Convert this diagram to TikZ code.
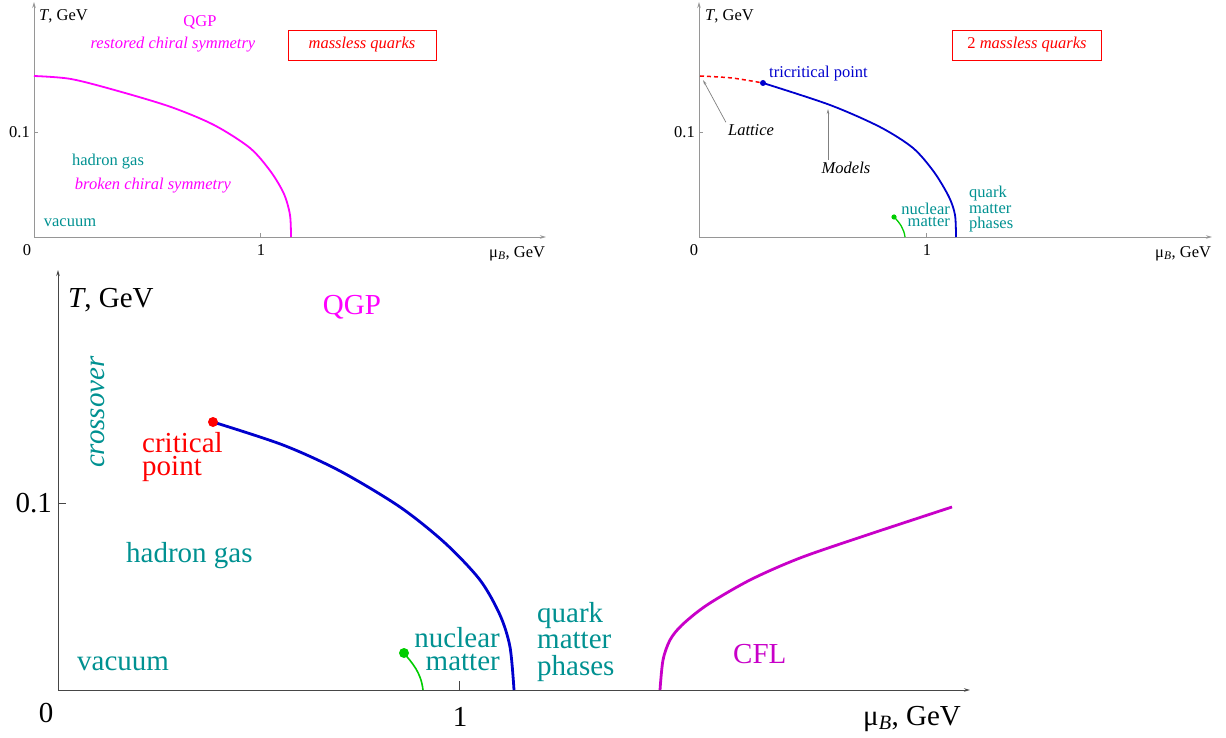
\documentclass[tikz,border=0pt]{standalone}
\usepackage{fontspec}
\setmainfont{Liberation Serif}
\usetikzlibrary{arrows.meta, positioning}
\definecolor{tealtxt}{RGB}{0,145,145}
\definecolor{qgpmag}{RGB}{255,0,255}
\definecolor{cflmag}{RGB}{200,0,200}
\definecolor{lineblue}{RGB}{0,0,205}
\definecolor{axgray}{RGB}{150,150,150}
\definecolor{axdark}{RGB}{70,70,70}
\definecolor{ptgreen}{RGB}{0,205,0}

\begin{document}
\begin{tikzpicture}[x=1pt, y=-1pt,
  smalltxt/.style={inner sep=0pt, font=\fontsize{16.5}{18}\selectfont},
  bigtxt/.style={inner sep=0pt, font=\fontsize{29}{32}\selectfont},
  axisline/.style={draw=axgray, line width=0.9pt},
  bigaxis/.style={draw=axdark, line width=1pt},
  axtip/.style={-{Stealth[length=6pt, width=3.5pt]}},
  ptr/.style={draw=gray, line width=0.7pt, -{Stealth[length=5pt, width=2.5pt]}}]
\useasboundingbox (0,0) rectangle (1226,738);

% top left
\coordinate (OA) at (34,237);
\draw[axisline, axtip] (OA) -- (34,2);
\draw[axisline, axtip] (OA) -- (546,237);
\draw[axisline] (34,132) -- +(4,0);
\draw[axisline] (260,237) -- +(0,-4);
\node[smalltxt, anchor=base west] (TA) at (39,21) {\textit{T}, GeV};
\node[smalltxt, anchor=east] (YA) at (30,132) {0.1};
\node[smalltxt] (ZA) at (27,250) {0};
\node[smalltxt] (UA) at (261,250) {1};
\node[smalltxt, anchor=base west] (MA) at (489,257) {μ\textsubscript{\textit{B}}, GeV};
\node[smalltxt, text=qgpmag] (QA) at (200,22) {QGP};
\node[smalltxt, text=qgpmag] (RA) at (173,45) {\textit{restored chiral symmetry}};
\node[smalltxt, draw=red, text=red, line width=0.9pt, minimum width=148pt, minimum height=30pt] (BA) at (362,45) {\textit{massless quarks}};
\draw[qgpmag, line width=1.8pt] plot[smooth] coordinates {(34,76) (71,79) (118,91) (171,107) (214,125) (250,148) (271,172) (284,194) (290,215) (291,237)};
\node[smalltxt, text=tealtxt] (HA) at (108,162) {hadron gas};
\node[smalltxt, text=qgpmag] (KA) at (153,186) {\textit{broken chiral symmetry}};
\node[smalltxt, text=tealtxt] (VA) at (70,223) {vacuum};

% top right
\coordinate (OB) at (699,237);
\draw[axisline, axtip] (OB) -- (699,2);
\draw[axisline, axtip] (OB) -- (1212,237);
\draw[axisline] (699,132) -- +(4,0);
\draw[axisline] (926,237) -- +(0,-4);
\node[smalltxt, anchor=base west] (TB) at (705,21) {\textit{T}, GeV};
\node[smalltxt, anchor=east] (YB) at (695,132) {0.1};
\node[smalltxt] (ZB) at (694,250) {0};
\node[smalltxt] (UB) at (927,250) {1};
\node[smalltxt, anchor=base west] (MB) at (1155,257) {μ\textsubscript{\textit{B}}, GeV};
\node[smalltxt, draw=red, text=red, line width=0.9pt, minimum width=149pt, minimum height=30pt] (BB) at (1027,45) {2 \textit{massless quarks}};
\coordinate (TP) at (763,83);
\draw[red, line width=1.5pt, dash pattern=on 4pt off 3pt] plot[smooth] coordinates {(700,76) (732,78) (763,83)};
\draw[lineblue, line width=1.8pt] plot[smooth] coordinates {(763,83) (830,105) (880,127) (913,148) (934,172) (949,197) (955,215) (956,237)};
\fill[lineblue] (TP) circle (3pt);
\node[smalltxt, text=lineblue, anchor=west] (TC) at (769,74) {tricritical point};
\coordinate (LP) at (703,80);
\coordinate (MP) at (828,109);
\node[smalltxt, inner sep=2pt] (LT) at (751,130) {\textit{Lattice}};
\node[smalltxt, inner sep=2pt] (MD) at (846,168) {\textit{Models}};
\draw[ptr] (LT.north west) -- (LP);
\draw[ptr] (MD.north west -| MP) -- (MP);
\coordinate (NB) at (894,217);
\draw[ptgreen, line width=1.3pt] (NB) .. controls (900,223) and (904,229) .. (905,237);
\fill[ptgreen] (NB) circle (2.6pt);
\node[smalltxt, text=tealtxt, align=right, anchor=north east, font=\fontsize{16.5}{12}\selectfont] (NM) at (950,203) {nuclear\\matter};
\node[smalltxt, text=tealtxt, align=left, anchor=north west, font=\fontsize{16.5}{15.5}\selectfont] (QM) at (969,186) {quark\\matter\\phases};

% bottom
\coordinate (OC) at (58,690);
\draw[bigaxis, axtip] (OC) -- (58,270);
\draw[bigaxis, axtip] (OC) -- (970,690);
\draw[bigaxis] (58,503) -- +(8,0);
\draw[bigaxis] (459,690) -- +(0,-9);
\node[bigtxt, anchor=base west] (TC2) at (68,307) {\textit{T}, GeV};
\node[bigtxt, anchor=east] (YC) at (52,503) {0.1};
\node[bigtxt] (ZC) at (46,713) {0};
\node[bigtxt] (UC) at (460,717) {1};
\node[bigtxt, anchor=base west] (MC) at (863,725) {μ\textsubscript{\textit{B}}, GeV};
\node[bigtxt, text=qgpmag] (QC) at (352,307) {QGP};
\node[bigtxt, text=tealtxt, rotate=90] (CO) at (98,412) {\textit{crossover}};
\coordinate (CP) at (213,422);
\draw[lineblue, line width=2.8pt] plot[smooth] coordinates {(213,422) (283,445) (340,471) (400,507) (445,543) (480,580) (500,615) (510,647) (514,690)};
\fill[red] (CP) circle (5pt);
\node[bigtxt, text=red, align=left, anchor=north west, font=\fontsize{29}{23}\selectfont] (CR) at (142,432) {critical\\point};
\coordinate (NC) at (404,653);
\draw[ptgreen, line width=1.6pt] (NC) .. controls (412,663) and (421,672) .. (423,690);
\fill[ptgreen] (NC) circle (5pt);
\node[bigtxt, text=tealtxt, align=right, anchor=north east, font=\fontsize{29}{23}\selectfont] (NM2) at (500,627) {nuclear\\matter};
\node[bigtxt, text=tealtxt, align=left, anchor=north west, font=\fontsize{29}{26.5}\selectfont] (QM2) at (537,602) {quark\\matter\\phases};
\node[bigtxt, text=tealtxt, anchor=base west] (HC) at (126,562) {hadron gas};
\node[bigtxt, text=tealtxt, anchor=base west] (VC) at (77,670) {vacuum};
\draw[cflmag, line width=2.8pt] plot[smooth] coordinates {(660,690) (663,660) (670,640) (682,625) (707,605) (750,580) (800,558) (867,535) (952,507)};
\node[bigtxt, text=cflmag, anchor=base west] (CF) at (733,663) {CFL};
\end{tikzpicture}
\end{document}
